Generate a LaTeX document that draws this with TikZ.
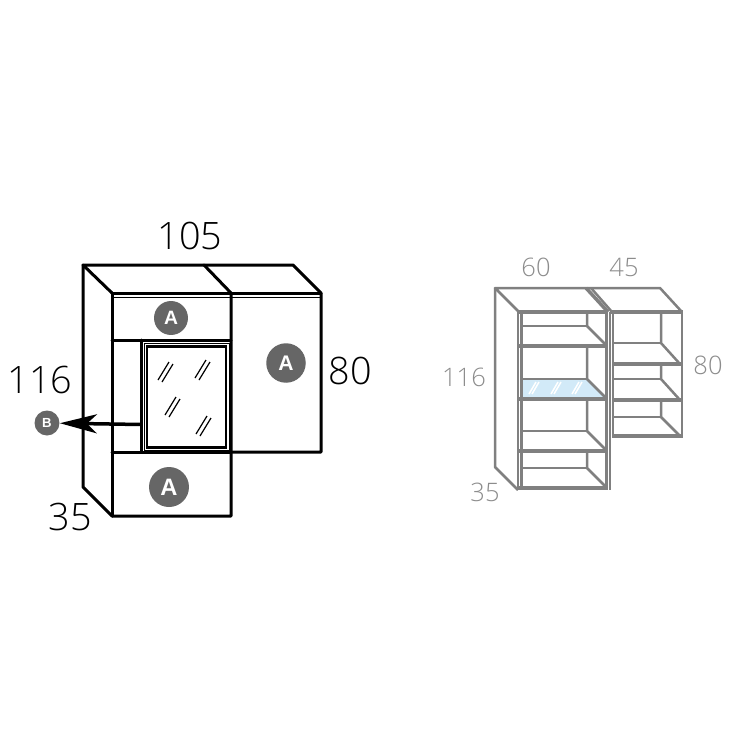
\documentclass[tikz,border=0pt]{standalone}
\usepackage{fontspec}
\setmainfont{Liberation Sans}
\newfontfamily\dimfont{Open Sans Light}
\usetikzlibrary{arrows.meta}
\definecolor{tagfill}{HTML}{666666}
\definecolor{shelfgray}{HTML}{808080}
\definecolor{dimgray}{HTML}{8C8C8C}
\definecolor{glassblue}{HTML}{D2EAF8}
\tikzset{
	thick line/.style = {black, line width=0.06cm, line cap=round, line join=round},
	thin line/.style = {black, line width=0.018cm},
	mark line/.style = {black, line width=0.024cm},
	shelf line/.style = {shelfgray, line width=0.05cm, line join=round},
	panel line/.style = {shelfgray, line width=0.09cm},
	dim label/.style = {inner sep=0pt, font=\dimfont\fontsize{21.5pt}{21.5pt}\selectfont},
	gray label/.style = {inner sep=0pt, text=dimgray, font=\dimfont\fontsize{14.5pt}{14.5pt}\selectfont},
	tag/.style = {circle, fill=tagfill, text=white, inner sep=0pt, font=\bfseries}
}
\begin{document}
\begin{tikzpicture}[x=0.02cm, y=-0.02cm]
	\useasboundingbox (0,0) rectangle (750,750);
	% left view
	\draw [thick line] (112,293)--(83,265)--(293,265)--(321,293)--(321,452)--(231,452);
	\draw [thick line] (83,265)--(83,487)--(112,516)--(231,516)--(231,293);
	\draw [thick line] (204,265)--(231,293);
	\draw [thick line] (112,293)--(321,293);
	\draw [thin line] (112,297.5)--(321,297.5);
	\draw [thick line] (112,293)--(112,516);
	\draw [thick line] (112,340)--(231,340);
	\draw [thick line] (112,452)--(231,452);
	\draw [thick line] (141,340)--(141,452);
	\draw [thin line] (144,343) rectangle (229,450);
	\draw [black, line width=0.05cm] (147,346.5) rectangle (226,447.5);
	% glass marks
	\foreach \x/\y in {165/372, 202/370, 172/407, 203/426} {
		\draw [mark line] (\x-7,\y+8)--(\x+4,\y-10);
		\draw [mark line] (\x-3,\y+10)--(\x+8,\y-8);
	}
	\node [tag, minimum size=0.68cm, font=\bfseries\fontsize{11pt}{11pt}\selectfont] (tagtop) at (171,318) {A};
	\node [tag, minimum size=0.79cm, font=\bfseries\fontsize{12pt}{12pt}\selectfont] (tagright) at (286,363) {A};
	\node [tag, minimum size=0.8cm, font=\bfseries\fontsize{13.5pt}{13.5pt}\selectfont] (tagbottom) at (169,487) {A};
	\node [tag, minimum size=0.5cm, font=\bfseries\fontsize{7.5pt}{7.5pt}\selectfont] (tagb) at (47,423) {B};
	\coordinate (mirrorside) at (141,424.5);
	\draw [-{Stealth[length=0.74cm, width=0.38cm, inset=0.2cm]}, black, line width=0.07cm] (mirrorside)--(tagb);
	\node [dim label] (width) at (190,236) {105};
	\node [dim label] (height) at (40,380) {116};
	\node [dim label] (depth) at (70,517) {35};
	\node [dim label] (lowheight) at (350,371) {80};
	% right view, glass shelf first
	\fill [glassblue] (522,380)--(587,380)--(606,397)--(522,397)--cycle;
	\foreach \x/\y in {534/388, 556/388, 577/388} {
		\draw [white, line width=0.03cm] (\x-5,\y+6)--(\x+2,\y-6);
		\draw [white, line width=0.03cm] (\x-2,\y+6)--(\x+5,\y-6);
	}
	\draw [shelf line] (519,312)--(495,288)--(660,288)--(682,312);
	\draw [shelf line] (495,288)--(495,467)--(518,490);
	% left tower
	\draw [panel line] (519,312)--(608,312);
	\draw [shelf line] (518,312)--(518,490);
	\draw [shelf line] (521.5,312)--(521.5,490);
	\draw [shelf line] (606.5,312)--(606.5,490);
	\draw [shelf line] (610,312)--(610,490);
	\foreach \ya/\yb/\yc in {312/326/346, 346/379/399, 399/431/451, 451/468/488} {
		\draw [shelf line] (587,\ya)--(587,\yb)--(607,\yc);
		\draw [shelf line] (522,\yb)--(587,\yb);
		\draw [panel line] (518,\yc)--(608,\yc);
	}
	% right tower
	\draw [shelf line, line width=0.07cm] (586,288)--(608,312);
	\draw [shelf line] (591,288)--(612,312);
	\draw [panel line] (610,312)--(683,312);
	\draw [shelf line] (682,312)--(682,437);
	\draw [shelf line] (613,312)--(613,437);
	\foreach \ya/\yb/\yc in {312/343/364, 364/379/400, 400/417/436} {
		\draw [shelf line] (661,\ya)--(661,\yb)--(680,\yc);
		\draw [shelf line] (613,\yb)--(661,\yb);
		\draw [panel line] (612,\yc)--(683,\yc);
	}
	\node [gray label] (leftwidth) at (536,267) {60};
	\node [gray label] (rightwidth) at (624,267) {45};
	\node [gray label] (grayheight) at (464,377) {116};
	\node [gray label] (graydepth) at (485,492) {35};
	\node [gray label] (grayheightb) at (708,365) {80};
\end{tikzpicture}
\end{document}
